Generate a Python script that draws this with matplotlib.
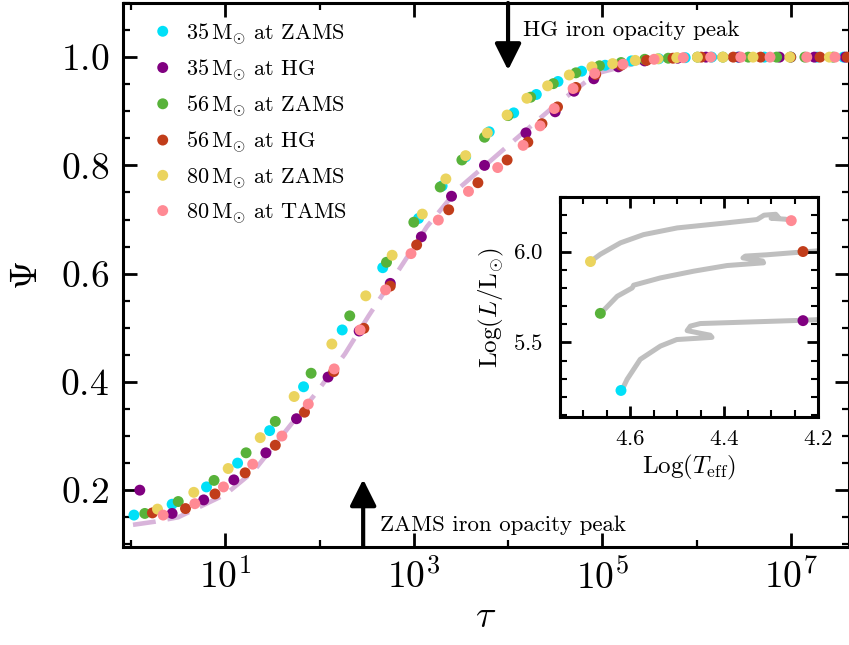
import numpy as np
import matplotlib
matplotlib.use('Agg')
import matplotlib.pyplot as plt
from matplotlib.ticker import FixedLocator, MultipleLocator, NullFormatter

plt.rcParams['font.family'] = 'serif'
plt.rcParams['font.serif'] = ['cmr10', 'DejaVu Serif']
plt.rcParams['mathtext.fontset'] = 'cm'
plt.rcParams['axes.formatter.use_mathtext'] = True
plt.rcParams['axes.unicode_minus'] = False

# main panel: log10(tau) and Psi for each run
cyan_logtau = [0.03, 0.435, 0.80, 1.13, 1.47, 1.83, 2.24, 2.67, 3.05, 3.30, 3.55, 3.80, 4.06,
               4.30, 4.53, 4.78, 5.03, 5.31, 5.60, 5.88, 6.16, 6.44, 6.72, 7.00, 7.28, 7.56]
cyan_psi = [0.154, 0.174, 0.206, 0.250, 0.310, 0.391, 0.496, 0.611, 0.702, 0.762, 0.816, 0.862,
            0.897, 0.931, 0.955, 0.974, 0.985, 0.993, 0.997, 0.999, 1.0, 1.0, 1.0, 1.0, 1.0, 1.0]

purple_logtau = [0.092, 0.435, 0.77, 1.09, 1.43, 1.755, 2.09, 2.42, 2.75, 3.08, 3.40, 3.75,
                 4.19, 4.50, 4.70, 4.91, 5.17, 5.45, 5.80, 6.10, 6.45, 6.88, 7.25, 7.58]
purple_psi = [0.200, 0.157, 0.182, 0.219, 0.269, 0.332, 0.409, 0.494, 0.582, 0.668, 0.743, 0.800,
              0.860, 0.899, 0.937, 0.960, 0.982, 0.993, 0.998, 1.0, 1.0, 1.0, 1.0, 1.0]

green_logtau = [0.145, 0.50, 0.88, 1.22, 1.53, 1.91, 2.32, 2.71, 3.00, 3.28, 3.51, 3.75, 4.00,
                4.24, 4.48, 4.72, 4.97, 5.20, 5.45, 5.70, 6.01, 6.28, 6.55, 6.85, 7.15, 7.45]
green_psi = [0.157, 0.179, 0.218, 0.269, 0.327, 0.416, 0.522, 0.621, 0.695, 0.760, 0.810, 0.852,
             0.892, 0.926, 0.951, 0.971, 0.984, 0.990, 0.996, 0.998, 1.0, 1.0, 1.0, 1.0, 1.0, 1.0]

red_logtau = [0.226, 0.577, 0.89, 1.21, 1.53, 1.84, 2.15, 2.47, 2.75, 3.03, 3.37, 3.68, 3.99,
              4.21, 4.36, 4.525, 4.72, 4.93, 5.20, 5.47, 5.75, 6.05, 6.39, 6.68, 7.00, 7.31, 7.60]
red_psi = [0.158, 0.166, 0.193, 0.232, 0.283, 0.344, 0.419, 0.499, 0.577, 0.653, 0.718, 0.768,
           0.810, 0.843, 0.877, 0.908, 0.944, 0.968, 0.985, 0.994, 0.998, 1.0, 1.0, 1.0, 1.0, 1.0, 1.0]

yellow_logtau = [0.28, 0.665, 1.03, 1.37, 1.73, 2.13, 2.49, 2.77, 3.09, 3.34, 3.55, 3.78, 3.99,
                 4.20, 4.42, 4.65, 4.89, 5.11, 5.35, 5.59, 5.79, 6.01, 6.28, 6.60, 6.99, 7.41]
yellow_psi = [0.165, 0.196, 0.240, 0.297, 0.373, 0.470, 0.559, 0.634, 0.710, 0.775, 0.818, 0.860,
              0.893, 0.924, 0.947, 0.967, 0.982, 0.988, 0.994, 0.997, 0.999, 1.0, 1.0, 1.0, 1.0, 1.0]

pink_logtau = [0.34, 0.676, 0.98, 1.29, 1.60, 1.88, 2.155, 2.43, 2.70, 2.97, 3.26, 3.58, 3.89,
               4.16, 4.34, 4.49, 4.69, 4.92, 5.22, 5.55, 5.86, 6.15, 6.47, 6.78, 7.17, 7.47]
pink_psi = [0.154, 0.175, 0.206, 0.248, 0.300, 0.359, 0.424, 0.496, 0.570, 0.637, 0.699, 0.752,
            0.796, 0.837, 0.873, 0.905, 0.942, 0.970, 0.987, 0.996, 0.999, 1.0, 1.0, 1.0, 1.0, 1.0]

fit_logtau = [0.02, 0.26, 0.5, 1.0, 1.3, 1.69, 1.97, 2.27, 2.52, 2.89, 3.14, 3.46, 3.95, 4.48,
              4.94, 5.5, 6.0, 7.0, 7.7]
fit_psi = [0.136, 0.142, 0.150, 0.192, 0.235, 0.320, 0.381, 0.452, 0.522, 0.620, 0.687, 0.755,
           0.829, 0.908, 0.970, 0.995, 1.0, 1.0, 1.0]

labels = [r'$35\,\mathrm{M}_{\odot}$ at ZAMS', r'$35\,\mathrm{M}_{\odot}$ at HG',
          r'$56\,\mathrm{M}_{\odot}$ at ZAMS', r'$56\,\mathrm{M}_{\odot}$ at HG',
          r'$80\,\mathrm{M}_{\odot}$ at ZAMS', r'$80\,\mathrm{M}_{\odot}$ at TAMS']
colors = ['#00e0f8', '#800080', '#58b23a', '#c13d1a', '#ebd45e', '#ff8a94']

# inset: HR tracks (log Teff, log L)
trk35_teff = [4.618, 4.607, 4.579, 4.536, 4.501, 4.426, 4.43, 4.479, 4.472, 4.451, 4.231, 4.205]
trk35_lum = [5.238, 5.297, 5.407, 5.480, 5.516, 5.528, 5.540, 5.565, 5.590, 5.604, 5.622, 5.625]
trk56_teff = [4.664, 4.628, 4.596, 4.593, 4.536, 4.465, 4.394, 4.316, 4.318, 4.36, 4.355, 4.31,
              4.231, 4.205]
trk56_lum = [5.658, 5.754, 5.800, 5.815, 5.855, 5.892, 5.923, 5.938, 5.948, 5.965, 5.975, 5.982,
             5.998, 6.003]
trk80_teff = [4.685, 4.664, 4.621, 4.572, 4.50, 4.394, 4.33, 4.315, 4.29, 4.285, 4.30, 4.27, 4.257]
trk80_lum = [5.945, 5.985, 6.048, 6.093, 6.130, 6.158, 6.176, 6.200, 6.205, 6.190, 6.183, 6.178,
             6.172]
inset_teff = [4.62, 4.232, 4.664, 4.232, 4.685, 4.257]
inset_lum = [5.236, 5.62, 5.66, 6.0, 5.945, 6.17]

fig = plt.figure(figsize=(8.49, 6.45), dpi=100)
ax = fig.add_axes([123 / 849, 1 - 547 / 645, (848.5 - 123) / 849, 544 / 645])

series = [(cyan_logtau, cyan_psi), (purple_logtau, purple_psi), (green_logtau, green_psi),
          (red_logtau, red_psi), (yellow_logtau, yellow_psi), (pink_logtau, pink_psi)]

ax.plot(10 ** np.array(fit_logtau), fit_psi, color='#d8b4da', lw=3.3,
        ls=(0, (5, 2.6)), zorder=1)
for (lt, ps), c, lab in zip(series, colors, labels):
    ax.scatter(10 ** np.array(lt), ps, s=62, color=c, edgecolors='none', label=lab, zorder=3)

ax.set_xscale('log')
ax.set_xlim(0.82, 4.1e7)
ax.set_ylim(0.095, 1.1)
ax.xaxis.set_major_locator(FixedLocator([1e1, 1e3, 1e5, 1e7]))
ax.xaxis.set_minor_locator(FixedLocator([1e0, 1e2, 1e4, 1e6]))
ax.xaxis.set_minor_formatter(NullFormatter())
ax.yaxis.set_major_locator(MultipleLocator(0.2))
ax.yaxis.set_minor_locator(MultipleLocator(0.05))
ax.tick_params(which='both', direction='in', top=True, right=True)
ax.tick_params(which='major', length=10, width=2, labelsize=27)
ax.tick_params(axis='y', which='major', pad=10)
ax.tick_params(axis='x', which='major', pad=8)
ax.tick_params(which='minor', length=5, width=1.6)
for sp in ax.spines.values():
    sp.set_linewidth(2.2)
ax.set_xlabel(r'$\tau$', fontsize=27, labelpad=4)
ax.set_ylabel(r'$\Psi$', fontsize=27, labelpad=12)

leg = ax.legend(loc='upper left', bbox_to_anchor=(0.018, 0.996), frameon=False, fontsize=16,
                handletextpad=0.55, labelspacing=0.47, borderaxespad=0.3, handlelength=1.0,
                scatteryoffsets=[0.5])

arrow_kw = dict(arrowstyle='-|>,head_length=0.8,head_width=0.4', lw=3, color='k',
                mutation_scale=20, shrinkA=0, shrinkB=0)
ax.annotate('', xy=(290, 0.22), xytext=(290, 0.095), arrowprops=arrow_kw)
ax.annotate('', xy=(1.0e4, 0.976), xytext=(1.0e4, 1.1), arrowprops=arrow_kw)
ax.text(440, 0.135, 'ZAMS iron opacity peak', fontsize=16.5, ha='left', va='center')
ax.text(1.45e4, 1.05, 'HG iron opacity peak', fontsize=16.5, ha='left', va='center')

ins = fig.add_axes([560 / 849, 1 - 417 / 645, 258 / 849, 220 / 645])
for tx, ty in [(trk35_teff, trk35_lum), (trk56_teff, trk56_lum), (trk80_teff, trk80_lum)]:
    ins.plot(tx, ty, color='#bfbfbf', lw=3.6, solid_joinstyle='round', zorder=1)
ins.scatter(inset_teff, inset_lum, s=62, c=colors, edgecolors='none', zorder=3)
ins.set_xlim(4.75, 4.2)
ins.set_ylim(5.09, 6.30)
ins.xaxis.set_major_locator(MultipleLocator(0.2))
ins.xaxis.set_minor_locator(MultipleLocator(0.05))
ins.yaxis.set_major_locator(MultipleLocator(0.5))
ins.yaxis.set_minor_locator(MultipleLocator(0.1))
ins.tick_params(which='both', direction='in', top=True, right=True)
ins.tick_params(which='major', length=8, width=2, labelsize=16.5)
ins.tick_params(axis='x', which='major', pad=9)
ins.tick_params(axis='y', which='major', pad=12)
ins.tick_params(which='minor', length=5, width=1.5)
for sp in ins.spines.values():
    sp.set_linewidth(2.2)
ins.set_xlabel(r'Log$(T_{\rm eff})$', fontsize=18, labelpad=3)
ins.set_ylabel(r'Log$(L/\mathrm{L}_{\odot})$', fontsize=18, labelpad=5)

fig.savefig('out.png', dpi=100)
